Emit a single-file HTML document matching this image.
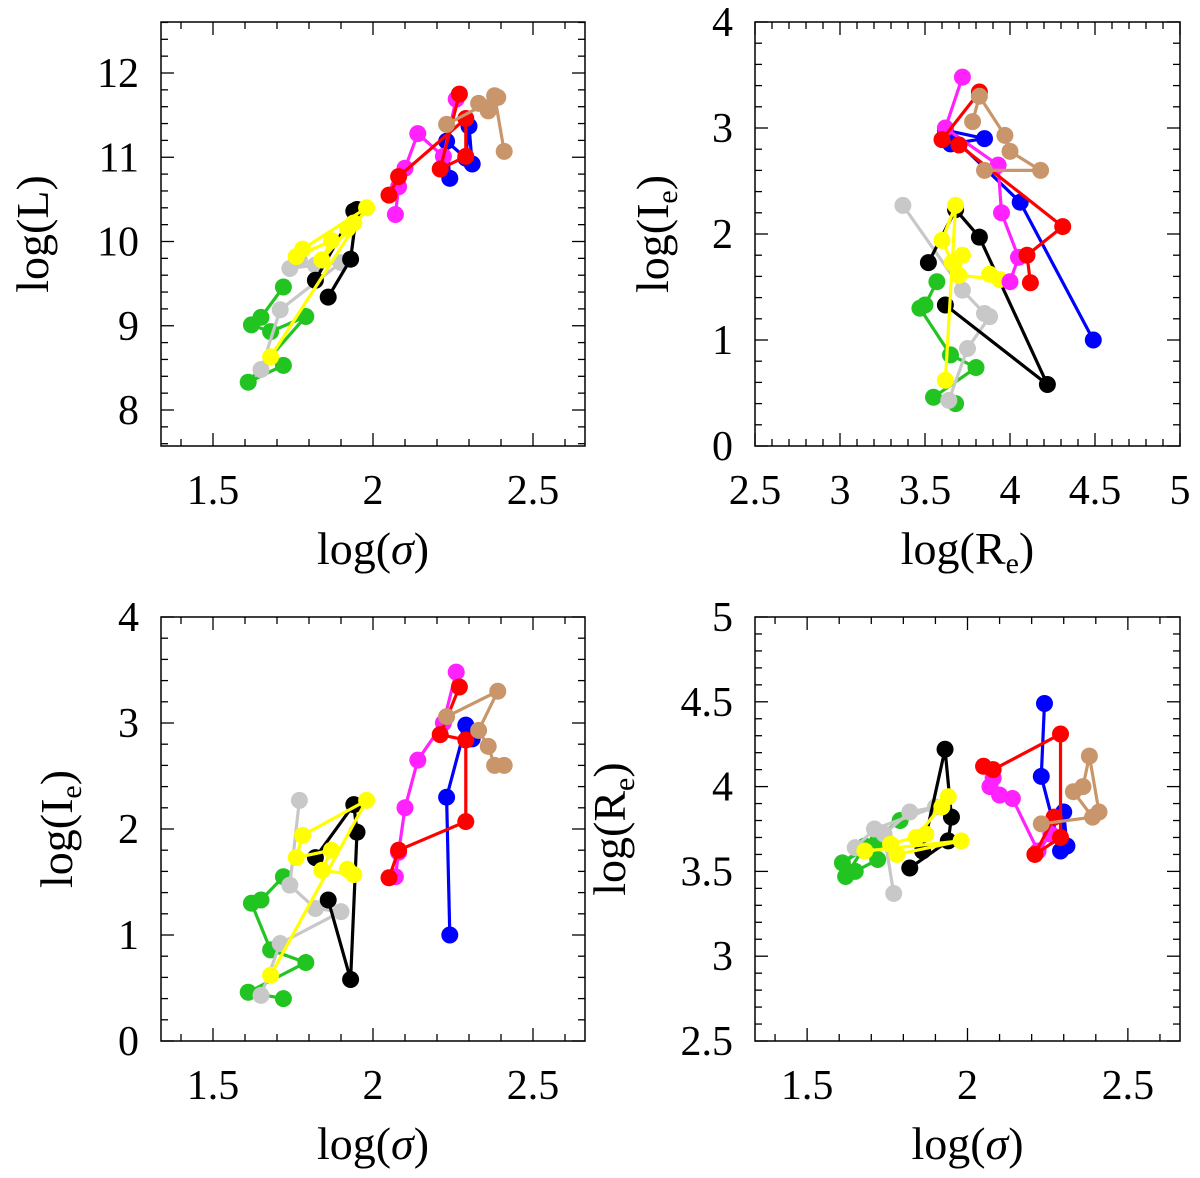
<!DOCTYPE html>
<html><head><meta charset="utf-8"><style>
body{margin:0;background:#fff}
svg text{font-family:"Liberation Serif",serif}
</style></head><body>
<svg id="chart" width="1200" height="1173" viewBox="0 0 1200 1173" xmlns="http://www.w3.org/2000/svg"></svg>
<script>
// series data: log(sigma), log(Ie), log(Re), log(L)
const seriesNames = ["green","gray","black","yellow","blue","magenta","red","tan"];
const seriesColors = ["#22c422","#c8c8c8","#000000","#ffff00","#0000ff","#ff22ff","#ff0000","#c8966a"];
const greenSigma = [1.72,1.65,1.62,1.68,1.79,1.61,1.72];
const greenIe = [1.55,1.33,1.30,0.86,0.74,0.46,0.40];
const greenRe = [3.57,3.50,3.47,3.65,3.80,3.55,3.68];
const greenL = [9.46,9.10,9.01,8.93,9.11,8.33,8.53];
const graySigma = [1.77,1.74,1.82,1.90,1.71,1.65];
const grayIe = [2.27,1.47,1.25,1.22,0.92,0.43];
const grayRe = [3.37,3.72,3.85,3.88,3.75,3.64];
const grayL = [9.78,9.68,9.72,9.75,9.19,8.48];
const blackSigma = [1.82,1.94,1.95,1.93,1.86];
const blackIe = [1.73,2.23,1.97,0.58,1.33];
const blackRe = [3.52,3.68,3.82,4.22,3.62];
const blackL = [9.54,10.36,10.38,9.79,9.34];
const yellowSigma = [1.68,1.98,1.78,1.76,1.87,1.84,1.94,1.92];
const yellowIe = [0.62,2.27,1.94,1.73,1.80,1.61,1.57,1.62];
const yellowRe = [3.62,3.68,3.60,3.66,3.72,3.70,3.94,3.88];
const yellowL = [8.63,10.40,9.91,9.82,10.01,9.78,10.22,10.15];
const blueSigma = [2.24,2.23,2.29,2.30,2.31];
const blueIe = [1.0,2.3,2.98,2.90,2.85];
const blueRe = [4.49,4.06,3.62,3.85,3.65];
const blueL = [10.75,11.19,10.99,11.37,10.92];
const magentaSigma = [2.26,2.22,2.14,2.10,2.08,2.07];
const magentaIe = [3.48,3.0,2.65,2.2,1.78,1.55];
const magentaRe = [3.72,3.62,3.93,3.95,4.05,4.0];
const magentaL = [11.69,11.01,11.28,10.87,10.65,10.32];
const redSigma = [2.27,2.21,2.29,2.29,2.08,2.05];
const redIe = [3.34,2.89,2.84,2.07,1.80,1.54];
const redRe = [3.82,3.60,3.70,4.31,4.10,4.12];
const redL = [11.75,10.86,11.01,11.46,10.77,10.55];
const tanSigma = [2.23,2.39,2.33,2.36,2.38,2.41];
const tanIe = [3.06,3.3,2.93,2.78,2.6,2.6];
const tanRe = [3.78,3.82,3.97,4.0,4.18,3.85];
const tanL = [11.39,11.71,11.64,11.55,11.73,11.07];

const allSigma=[greenSigma,graySigma,blackSigma,yellowSigma,blueSigma,magentaSigma,redSigma,tanSigma];
const allIe=[greenIe,grayIe,blackIe,yellowIe,blueIe,magentaIe,redIe,tanIe];
const allRe=[greenRe,grayRe,blackRe,yellowRe,blueRe,magentaRe,redRe,tanRe];
const allL=[greenL,grayL,blackL,yellowL,blueL,magentaL,redL,tanL];

const sigmaTicks=["1.5","2","2.5"], LTicks=["8","9","10","11","12"], IeTicks=["0","1","2","3","4"];
const ReTicksX=["2.5","3","3.5","4","4.5","5"], ReTicksY=["2.5","3","3.5","4","4.5","5"];

const svg=document.getElementById('chart');
const NS='http://www.w3.org/2000/svg';
function mk(tag,attrs,parent){const e=document.createElementNS(NS,tag);for(const k in attrs)e.setAttribute(k,attrs[k]);(parent||svg).appendChild(e);return e;}

function panel(p){
  const g=mk('g',{});
  
  
  const sx=v=>p.x0+(v-p.xr[0])/(p.xr[1]-p.xr[0])*(p.x1-p.x0);
  const sy=v=>p.y1-(v-p.yr[0])/(p.yr[1]-p.yr[0])*(p.y1-p.y0);
  const fr=mk('rect',{x:p.x0,y:p.y0,width:p.x1-p.x0,height:p.y1-p.y0,fill:'none',stroke:'#000','stroke-width':1.5},g);
  
  const eps=1e-6;
  for(let v=Math.ceil(p.xr[0]/p.xmin-eps)*p.xmin; v<=p.xr[1]+eps; v+=p.xmin){
    const maj=Math.abs(v/p.xmaj-Math.round(v/p.xmaj))<1e-4, L=maj?13:7, X=sx(v);
    mk('line',{x1:X,x2:X,y1:p.y1,y2:p.y1-L,stroke:'#000','stroke-width':1.3},g);
    mk('line',{x1:X,x2:X,y1:p.y0,y2:p.y0+L,stroke:'#000','stroke-width':1.3},g);
  }
  for(let v=Math.ceil(p.yr[0]/p.ymin-eps)*p.ymin; v<=p.yr[1]+eps; v+=p.ymin){
    const maj=Math.abs(v/p.ymaj-Math.round(v/p.ymaj))<1e-4, L=maj?13:7, Y=sy(v);
    mk('line',{x1:p.x0,x2:p.x0+L,y1:Y,y2:Y,stroke:'#000','stroke-width':1.3},g);
    mk('line',{x1:p.x1,x2:p.x1-L,y1:Y,y2:Y,stroke:'#000','stroke-width':1.3},g);
  }
  p.xt.forEach(t=>{const e=mk('text',{x:sx(parseFloat(t)),y:p.y1+58,'text-anchor':'middle','font-size':42},g);e.textContent=t;
    });
  p.yt.forEach(t=>{const e=mk('text',{x:p.x0-22,y:sy(parseFloat(t))+14,'text-anchor':'end','font-size':42},g);e.textContent=t;
    });
  const xt=mk('text',{x:(p.x0+p.x1)/2,y:p.y1+118,'text-anchor':'middle','font-size':46},g);
  xt.innerHTML=p.xtitle;  
  const yt=mk('text',{x:0,y:0,'text-anchor':'middle','font-size':46,transform:`translate(${p.ytx},${(p.y0+p.y1)/2}) rotate(-90)`},g);
  yt.innerHTML=p.ytitle;  
  const clip='c'+p.name; const cp=mk('clipPath',{id:clip},g); mk('rect',{x:p.x0,y:p.y0,width:p.x1-p.x0,height:p.y1-p.y0},cp);
  const dg=mk('g',{'clip-path':`url(#${clip})`},g);
  seriesNames.forEach((nm,i)=>{
    const xs=p.xd[i], ys=p.yd[i];
    const sg=mk('g',{},dg);
    
    
    const pts=xs.map((v,j)=>sx(v)+','+sy(ys[j])).join(' ');
    const pl=mk('polyline',{points:pts,fill:'none',stroke:seriesColors[i],'stroke-width':3.2},sg);
    
    
    xs.forEach((v,j)=>{
      const c=mk('circle',{cx:sx(v),cy:sy(ys[j]),r:8.5,fill:seriesColors[i]},sg);
      
      
    });
  });
}
const sR=[2-212/320,2+212/320];
const sub='<tspan font-size="30" dy="9">e</tspan><tspan dy="-9">)</tspan>';
panel({name:'panel-L-vs-sigma',x0:161,x1:585,y0:22,y1:446,xr:sR,yr:[8-36/84.25,8+388/84.25],xmin:0.1,xmaj:0.5,ymin:0.2,ymaj:1,
  xt:sigmaTicks,yt:LTicks,xtitle:'log(<tspan font-style="italic">σ</tspan>)',ytitle:'log(L)',ytx:48,xd:allSigma,yd:allL});
panel({name:'panel-Ie-vs-Re',x0:755,x1:1180,y0:22,y1:446,xr:[2.5,5],yr:[0,4],xmin:0.1,xmaj:0.5,ymin:0.2,ymaj:1,
  xt:ReTicksX,yt:IeTicks,xtitle:'log(R'+sub,ytitle:'log(I'+sub,ytx:668,xd:allRe,yd:allIe});
panel({name:'panel-Ie-vs-sigma',x0:161,x1:585,y0:617,y1:1041,xr:sR,yr:[0,4],xmin:0.1,xmaj:0.5,ymin:0.2,ymaj:1,
  xt:sigmaTicks,yt:IeTicks,xtitle:'log(<tspan font-style="italic">σ</tspan>)',ytitle:'log(I'+sub,ytx:72,xd:allSigma,yd:allIe});
panel({name:'panel-Re-vs-sigma',x0:755,x1:1180,y0:617,y1:1041,xr:sR,yr:[2.5,5],xmin:0.1,xmaj:0.5,ymin:0.1,ymaj:0.5,
  xt:sigmaTicks,yt:ReTicksY,xtitle:'log(<tspan font-style="italic">σ</tspan>)',ytitle:'log(R'+sub,ytx:625,xd:allSigma,yd:allRe});
</script>
</body></html>
